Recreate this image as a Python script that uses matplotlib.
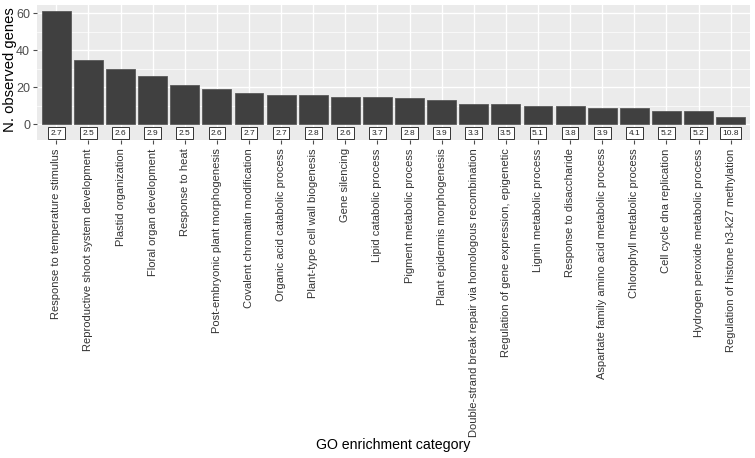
import matplotlib
matplotlib.use("Agg")
import matplotlib.pyplot as plt
import numpy as np

categories = [
    "Response to temperature stimulus",
    "Reproductive shoot system development",
    "Plastid organization",
    "Floral organ development",
    "Response to heat",
    "Post-embryonic plant morphogenesis",
    "Covalent chromatin modification",
    "Organic acid catabolic process",
    "Plant-type cell wall biogenesis",
    "Gene silencing",
    "Lipid catabolic process",
    "Pigment metabolic process",
    "Plant epidermis morphogenesis",
    "Double-strand break repair via homologous recombination",
    "Regulation of gene expression, epigenetic",
    "Lignin metabolic process",
    "Response to disaccharide",
    "Aspartate family amino acid metabolic process",
    "Chlorophyll metabolic process",
    "Cell cycle dna replication",
    "Hydrogen peroxide metabolic process",
    "Regulation of histone h3-k27 methylation",
]
observed = [61, 35, 30, 26, 21, 19, 17, 16, 16, 15, 15, 14, 13, 11, 11, 10, 10, 9, 9, 7, 7, 4]
enrichment = ["2.7", "2.5", "2.6", "2.9", "2.5", "2.6", "2.7", "2.7", "2.8", "2.6", "3.7",
              "2.8", "3.9", "3.3", "3.5", "5.1", "3.8", "3.9", "4.1", "5.2", "5.2", "10.8"]
yticks = [0, 20, 40, 60]

plt.rcParams['font.family'] = ['Liberation Sans', 'DejaVu Sans']

fig = plt.figure(figsize=(7.55, 4.58), dpi=100)
ax = fig.add_axes([37/755, 1-140/458, 713/755, 135/458])
ax.set_facecolor("#EBEBEB")
x = np.arange(len(categories))
ax.bar(x, observed, width=0.9, color="#404040", edgecolor="#5a5a5a", linewidth=0.6, zorder=3)
for xi, lab in zip(x, enrichment):
    ax.text(xi, -4.8, lab, ha="center", va="center", fontsize=6, color="#222222", zorder=4,
            bbox=dict(boxstyle="square,pad=0.3", fc="white", ec="#333333", lw=0.7))
ax.set_xlim(-0.6, len(categories) - 0.4)
ax.set_ylim(-8.5, 64.5)
ax.set_yticks(yticks)
ax.set_yticks([10, 30, 50], minor=True)
ax.set_xticks(x)
ax.set_xticklabels(categories, rotation=90, fontsize=8, color="#333333")
ax.tick_params(axis='y', labelsize=9, colors="#4D4D4D", length=3, width=0.8, pad=2)
ax.tick_params(axis='x', length=3, width=0.8, colors="#4D4D4D", pad=3)
ax.tick_params(axis='y', which='minor', length=0)
for lab in ax.get_xticklabels():
    lab.set_color("#333333")
ax.grid(True, which='major', color="white", linewidth=1.0, zorder=0)
ax.grid(True, which='minor', axis='y', color="white", linewidth=0.5, zorder=0)
ax.set_axisbelow(True)
for s in ax.spines.values():
    s.set_visible(False)
ax.set_ylabel("N. observed genes", fontsize=10.7, color="black", va="center")
ax.yaxis.set_label_coords(-27/713, 0.52)
ax.set_xlabel("GO enrichment category", fontsize=10.2, color="black", va="center")
ax.xaxis.set_label_coords(0.5, (140-445)/135)
fig.savefig("out.png", dpi=100)
